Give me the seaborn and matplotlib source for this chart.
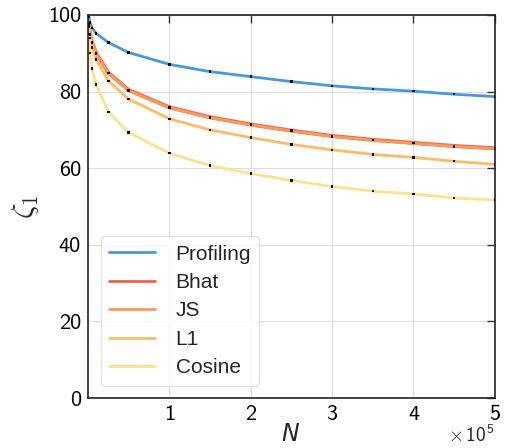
import numpy as np
import pandas as pd
import matplotlib
matplotlib.use("Agg")
import matplotlib.pyplot as plt
from matplotlib.ticker import FuncFormatter
import seaborn as sns

N = [1e3, 2.5e3, 5e3, 1e4, 2.5e4, 5e4, 1e5, 1.5e5, 2e5, 2.5e5, 3e5, 3.5e5, 4e5, 4.5e5, 5e5]
profiling = [99.5, 98.0, 96.6, 95.2, 92.8, 90.2, 87.1, 85.2, 83.9, 82.6, 81.5, 80.7, 80.1, 79.3, 78.7]
bhat = [97.5, 95.0, 92.8, 90.0, 84.9, 80.4, 75.9, 73.3, 71.4, 69.8, 68.4, 67.4, 66.6, 65.8, 65.2]
js = [97.4, 94.9, 92.7, 89.9, 84.8, 80.3, 75.8, 73.2, 71.3, 69.7, 68.3, 67.3, 66.5, 65.7, 65.1]
l1 = [97.0, 94.0, 91.5, 88.4, 82.8, 78.0, 72.9, 70.0, 68.0, 66.2, 64.8, 63.6, 62.8, 61.8, 61.0]
cosine = [95.0, 90.0, 86.0, 81.8, 74.7, 69.3, 63.9, 60.7, 58.6, 56.8, 55.2, 54.0, 53.3, 52.2, 51.7]

methods = ["Profiling", "Bhat", "JS", "L1", "Cosine"]
series = [profiling, bhat, js, l1, cosine]
colors = ["#4a98dc", "#ec6448", "#f79a5c", "#f9bd6a", "#fde28f"]
widths = [2.0, 2.8, 2.0, 2.0, 2.0]
x_ticks = [1e5, 2e5, 3e5, 4e5, 5e5]
y_ticks = [0, 20, 40, 60, 80, 100]

df = pd.concat([pd.DataFrame({"N": N, "zeta": s, "method": m}) for m, s in zip(methods, series)])

sns.set_style("white")
plt.rcParams["mathtext.fontset"] = "cm"

fig = plt.figure(figsize=(5.07, 4.48), dpi=100)
ax = fig.add_axes([0.1736, 0.1116, 0.8024, 0.855])

for m, c, w in zip(methods, colors, widths):
    sub = df[df["method"] == m]
    sns.lineplot(data=sub, x="N", y="zeta", color=c, lw=w, ax=ax, label=m)
    sns.scatterplot(data=sub, x="N", y="zeta", color="black", s=3, marker="s",
                    edgecolor="none", ax=ax, zorder=5, legend=False)

ax.set_xlim(0, 5e5)
ax.set_ylim(0, 100)
ax.set_xticks(x_ticks)
ax.set_yticks(y_ticks)
ax.xaxis.set_major_formatter(FuncFormatter(lambda v, p: f"{v/1e5:g}"))
ax.grid(True, color="#dddddd", lw=0.8)
ax.tick_params(direction="in", top=True, right=True, length=6, width=1.0,
               colors="#333333", labelcolor="black", labelsize=16, pad=5)
for lab in ax.get_xticklabels() + ax.get_yticklabels():
    lab.set_family("cmss10")
ax.text(1.0, -0.07, r"$\times\,\mathdefault{10^5}$", transform=ax.transAxes,
        ha="right", va="top", fontsize=14, family="cmss10")
for sp in ax.spines.values():
    sp.set_color("#222222")
    sp.set_linewidth(1.2)

ax.set_xlabel("N", fontsize=17, style="italic", family="DejaVu Sans")
ax.xaxis.set_label_coords(0.496, -0.062)
ax.set_ylabel(r"$\zeta_1$", fontsize=22)
ax.yaxis.set_label_coords(-0.115, 0.5)

leg = ax.legend(loc="lower left", frameon=True, prop={"family": "Liberation Sans", "size": 15},
                handlelength=2.2, borderaxespad=0.6, labelspacing=0.45, handletextpad=1.0)
leg.get_frame().set_edgecolor("#dddddd")
for h in leg.get_lines():
    h.set_linewidth(2.0)

fig.savefig("out.png", dpi=100)
